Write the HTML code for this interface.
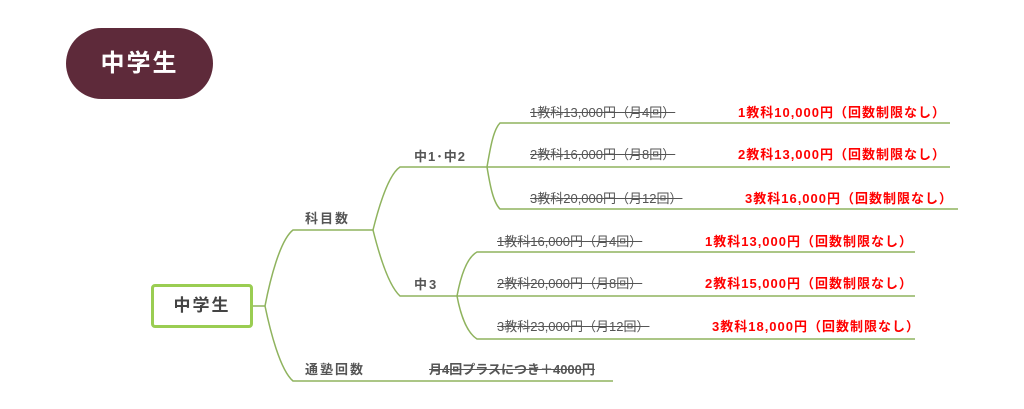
<!DOCTYPE html>
<html><head><meta charset="utf-8"><style>
body{margin:0;width:1024px;height:409px;background:#fff;position:relative;overflow:hidden;font-family:"Liberation Sans","Noto Sans CJK JP",sans-serif;}
.t{position:absolute;font-size:13px;font-weight:bold;color:#555;white-space:nowrap;line-height:15px;letter-spacing:2px}
.s{text-decoration:line-through;font-weight:normal;color:#555;letter-spacing:0}
.r{color:#f00;font-weight:bold;letter-spacing:1px}
</style></head><body>
<div style="position:absolute;left:66px;top:28px;width:147px;height:71px;border-radius:36px;background:#5e2a3a;color:#fff;font-size:24px;font-weight:bold;text-align:center;line-height:71px;letter-spacing:2px">中学生</div>
<svg width="1024" height="409" style="position:absolute;left:0;top:0" fill="none" stroke="#8fb35e" stroke-width="1.5">
<path d="M253 306 H265"/>
<path d="M265 306 C270 280,280 240,293 230 H373"/>
<path d="M265 306 C270 330,280 370,293 381 H613"/>
<path d="M373 230 C378 210,388 175,400 167 H487"/>
<path d="M373 230 C378 250,388 285,400 296 H457"/>
<path d="M487 167 C490 150,493 130,500 123 H950"/>
<path d="M487 167 H950"/>
<path d="M487 167 C490 185,493 202,500 209 H958"/>
<path d="M457 296 C460 280,466 258,477 252 H915"/>
<path d="M457 296 H915"/>
<path d="M457 296 C460 312,466 332,477 339 H915"/>
</svg>
<div style="position:absolute;left:151px;top:284px;width:96px;height:38px;border:3px solid #9acd52;border-radius:4px;background:#fff;font-size:17px;font-weight:bold;color:#444;text-align:center;line-height:38px;letter-spacing:2px">中学生</div>
<div class="t" style="left:305px;top:211px">科目数</div>
<div class="t" style="left:305px;top:362px">通塾回数</div>
<div class="t" style="left:414px;top:149px;letter-spacing:1px">中1･中2</div>
<div class="t" style="left:414px;top:277px">中3</div>
<div class="t s" style="left:530px;top:105px">1教科13,000円（月4回）</div>
<div class="t s" style="left:530px;top:147px">2教科16,000円（月8回）</div>
<div class="t s" style="left:530px;top:191px">3教科20,000円（月12回）</div>
<div class="t r" style="left:738px;top:105px">1教科10,000円（回数制限なし）</div>
<div class="t r" style="left:738px;top:147px">2教科13,000円（回数制限なし）</div>
<div class="t r" style="left:745px;top:191px">3教科16,000円（回数制限なし）</div>
<div class="t s" style="left:497px;top:234px">1教科16,000円（月4回）</div>
<div class="t s" style="left:497px;top:276px">2教科20,000円（月8回）</div>
<div class="t s" style="left:497px;top:319px">3教科23,000円（月12回）</div>
<div class="t r" style="left:705px;top:234px">1教科13,000円（回数制限なし）</div>
<div class="t r" style="left:705px;top:276px">2教科15,000円（回数制限なし）</div>
<div class="t r" style="left:712px;top:319px">3教科18,000円（回数制限なし）</div>
<div class="t s" style="left:429px;top:362px;font-weight:bold">月4回プラスにつき＋4000円</div>
</body></html>
